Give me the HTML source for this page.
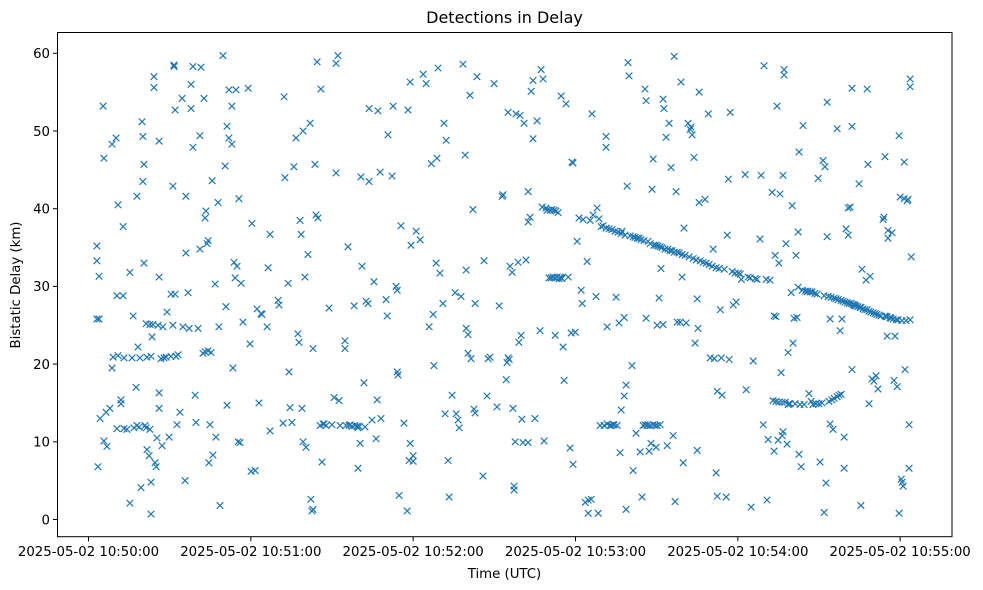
<!DOCTYPE html>
<html><head><meta charset="utf-8"><style>
html,body{margin:0;padding:0;background:#fff;}
svg{display:block;font-family:"DejaVu Sans","Liberation Sans",sans-serif;}
</style></head><body>
<svg id="chart" width="983" height="590" viewBox="0 0 983 590" xmlns="http://www.w3.org/2000/svg">
<rect x="0" y="0" width="983" height="590" fill="#fff"/>
<text x="504.5" y="23" text-anchor="middle" font-size="16" fill="#000">Detections in Delay</text>
<text x="504.5" y="578" text-anchor="middle" font-size="13.3" fill="#000">Time (UTC)</text>
<text x="0" y="0" transform="translate(20,285) rotate(-90)" text-anchor="middle" font-size="13.3" fill="#000">Bistatic Delay (km)</text>
<g id="marks"></g>
<g id="axes"></g>
<rect x="57.5" y="32.5" width="894.5" height="504.2" fill="none" stroke="#000" stroke-width="1"/>
</svg>
<script>
const xTickSeconds = [0, 60, 120, 180, 240, 300];
const xTickLabels = ["2025-05-02 10:50:00","2025-05-02 10:51:00","2025-05-02 10:52:00","2025-05-02 10:53:00","2025-05-02 10:54:00","2025-05-02 10:55:00"];
const yTicks = [0, 10, 20, 30, 40, 50, 60];
// [seconds after 10:50:00, bistatic delay km]
const detectionsA = [[3.1,35.2],[3.1,33.3],[3.9,31.3],[3.1,25.8],[3.9,25.8],[5.4,53.2],[5.7,46.5],[4.3,13],[3.5,6.8],[5.7,10.1],[6.8,9.4],[6.5,13.8],[8.7,48.3],[9.1,20.9],[8.7,19.5],[7.9,14.3],[10.2,49.1],[10.9,40.5],[10.5,28.8],[10.9,21.1],[10.5,11.7],[12,15.4],[12,14.9],[12.8,37.7],[12.8,28.8],[13.1,20.8],[13.1,11.7],[14.2,11.6],[15.3,31.8],[15.3,2.1],[16.1,20.8],[16.5,26.2],[16.8,11.8],[17.6,17],[17.9,41.6],[17.9,12.1],[18.3,22.2],[18.7,11.9],[19.4,4.1],[19,20.8],[19.8,51.2],[20.1,49.3],[20.1,43.5],[20.5,45.7],[20.5,33],[20.9,12.1],[21.3,25.2],[21.3,11.8],[21.6,20.9],[21.6,9],[22.4,8.2],[22.7,25.1],[22.7,11.6],[23.1,0.7],[23.1,4.8],[23.1,21],[23.5,23.5],[23.8,25.1],[24.2,57],[24.2,55.6],[24.6,7.3],[25,6.8],[25.3,10.5],[25.7,25],[26.1,48.7],[26.1,31.2],[26.1,16.3],[26.1,14.3],[26.8,20.7],[27.2,9.5],[27.5,24.8],[27.9,20.8],[28.7,20.9],[29,26.7],[29.8,10.6],[30.5,21],[30.5,29],[31.2,25],[31.6,58.3],[31.6,58.5],[31.2,42.9],[32,29],[32,52.7],[32.3,21],[32.7,12.2],[33.1,21.2],[33.8,13.8],[34.6,54.2],[34.9,24.8],[35.7,5],[36,41.6],[36,34.3],[36.8,29.2],[37.2,24.6],[37.9,56],[37.9,52.9],[38.6,58.3],[38.6,47.9],[39.4,16],[39.7,12.5],[40.5,24.6],[41.2,34.8],[41.2,49.4],[41.6,58.2],[42.3,21.4],[42.7,54.2],[43.1,38.8],[43.1,21.6],[43.4,39.7],[43.8,35.5],[44.2,35.9],[44.2,21.7],[44.5,7.3],[44.9,12.2],[45.3,21.5],[45.7,43.6],[46,8.3],[46.8,30.3],[47.1,10.6],[47.9,40.8],[48.2,24.8],[48.6,1.8],[49.7,59.7],[50.5,45.5],[50.8,27.4],[51.2,14.7],[51.2,50.6],[51.9,49.1],[51.9,55.3],[53,48.3],[53,53.2],[53.4,19.5],[53.8,33.1],[54.2,31.1],[54.5,55.3],[54.9,32.6],[55.3,10],[55.6,41.3],[56,9.9],[56.4,30.4],[57.1,25.4],[59,55.5],[59.7,22.6],[60.1,6.2],[60.4,38.1],[61.6,6.3],[62.3,27.1],[63,15],[63.8,26.5],[64.1,26.4],[66,24.8],[66.4,32.4],[67.1,36.7],[67.1,11.4]];
const detectionsB = [[70.1,28.2],[70.4,27.6],[71.9,12.4],[72.3,54.4],[72.6,44],[73.8,30.4],[74.1,19],[74.5,14.4],[75.2,12.5],[75.9,45.4],[76.7,49.1],[77.4,23.9],[77.8,22.8],[78.2,38.5],[78.6,36.7],[78.9,14.3],[79.3,10],[79.3,50],[80,31.2],[80.4,9.3],[81.1,34.1],[81.9,51],[82.2,2.6],[82.6,1.1],[83,1.3],[83,22],[83.7,45.7],[84.1,39.2],[84.5,58.9],[84.8,38.8],[85.6,12.1],[85.9,55.4],[86.3,7.4],[86.7,12.3],[87.1,12.3],[87.8,12.1],[88.9,27.2],[90,12.2],[90.8,15.7],[91.5,44.6],[92.2,59.7],[91.5,58.7],[92.6,15.3],[93,12.1],[94.8,23],[94.8,22],[95.2,12.1],[95.9,35.1],[96.3,12.1],[96.7,12.2],[97.4,12],[98.2,27.5],[98.5,12.1],[99.3,12],[99.6,11.8],[99.6,6.6],[100,12],[100.4,9.8],[100.7,44.1],[101.1,32.6],[101.8,17.6],[102.2,11.9],[102.6,28.1],[103.3,27.8],[103.7,52.9],[103.7,43.5],[104.8,12.8],[105.5,30.6],[106.3,10.4],[106.7,15.4],[107,52.6],[107.8,44.7],[108.1,13],[110,28.3],[110.4,26.2],[110.7,49.5],[112.2,44.2],[112.6,53.2],[113.7,30],[114.1,29.5],[114.1,19],[114.4,18.6],[114.8,3.1],[115.5,37.8],[116.6,12.4],[117.8,1.1],[118.1,52.7],[118.5,7.6],[118.9,9.8],[118.9,56.3],[119.2,35.3],[120,8.2],[120,7.5],[121.1,37.1],[122.6,36],[123.7,57.3],[124.8,56.1],[125.9,24.8],[126.7,45.8],[127.4,26.4]];
const detectionsC = [[127.7,19.8],[128.5,33],[128.8,46.5],[129.2,58.1],[129.9,31.7],[131,27.8],[131.4,51],[131.8,13.6],[132.2,48.8],[132.9,7.6],[133.3,2.9],[134.4,16],[135.5,29.2],[135.9,13.6],[136.6,12.8],[137,11.8],[137.7,28.7],[138.4,58.6],[139.2,46.9],[139.6,24.6],[139.6,32.1],[140.3,21.4],[140.3,23.8],[141,54.6],[141.4,20.7],[142.1,39.9],[142.5,14.2],[142.9,27.8],[142.9,13.7],[143.6,57],[145.8,5.6],[146.2,33.3],[147.3,15.9],[147.7,20.7],[148.4,20.9],[149.9,56.1],[151,14.5],[151.8,27.5],[152.9,41.6],[153.2,41.8],[154.4,18],[154.7,20.2],[155.1,20.8],[155.1,52.4],[155.5,20.6],[155.8,32.6],[156.6,31.8],[156.9,14.3],[157.3,4.3],[157.3,3.8],[157.7,10],[158,52.2],[158.8,33.1],[159.1,22.8],[159.5,52],[159.9,23.7],[160.2,12.9],[160.6,9.9],[161,51],[161.7,33.4],[162.5,38.3],[162.5,42.2],[162.5,9.9],[163.2,38.9],[163.6,55.1],[164.3,49],[164.3,56.5],[165,13],[165.8,51.3],[166.9,24.3],[167.3,57.9],[167.7,40.2],[168,56.7],[168.4,10.1],[169.1,40.1],[169.5,39.8],[170.2,31.1],[170.6,39.8],[171,31.1],[171.3,39.9],[171.7,31.2],[172.1,39.8],[172.5,31.1],[172.5,23.7],[172.8,39.7],[173.2,31.2],[173.6,39.5],[173.9,31],[174.3,31.2],[174.7,31.1],[175,31],[174.7,54.5],[175.4,22.2],[175.8,17.9],[176.5,53.5],[177.3,31.2],[178,9.2],[178.4,24],[178.7,46],[179.1,45.9],[179.1,7.1],[179.9,24.1]];
const detectionsD = [[180.6,35.8],[181.3,38.8],[182.1,29.5],[182.5,27.8],[182.8,38.6],[183.6,2.2],[184.3,33.2],[184.7,2.5],[184.7,0.8],[185.4,38.5],[185.8,2.6],[186.1,52.2],[186.5,39.2],[187.6,28.7],[188,40.1],[188.4,0.8],[188.7,38.7],[189.1,12.1],[189.5,37.7],[190.2,37.8],[190.6,12.1],[191.3,37.5],[191.3,49.3],[191.3,47.9],[191.7,12.3],[191.7,24.8],[192.4,37.4],[192.8,12.1],[193.2,12.1],[193.5,37.3],[193.9,12.2],[194.3,12.2],[194.6,37.1],[195,28.6],[195.4,12.1],[195.7,37],[196.1,25.3],[196.5,8.6],[196.9,36.8],[196.9,14.1],[197.2,37.1],[198,26],[198,15.9],[198.3,36.6],[198.7,1.3],[198.7,17.3],[199.1,42.9],[199.4,58.8],[199.8,57.1],[200.2,36.5],[200.9,19.8],[201.3,36.4],[201.3,6.3],[202,36.3],[202.4,11.1],[202.8,36.2],[203.5,36.2],[203.9,8.7],[204.2,36],[204.6,2.9],[205,12.1],[205.3,35.9],[205.7,55.4],[205.7,12.2],[206.1,25.9],[206.1,53.9],[206.4,12.1],[206.8,35.8],[206.8,12.2],[207.2,8.8],[207.6,12.1],[207.6,35.5],[207.9,9.8],[208.3,42.5],[208.7,12.2],[208.7,46.4],[209,35.3],[209.4,12.1],[209.8,35.3],[209.8,9.3],[210.2,12.1],[210.2,25],[210.5,35.2],[210.9,28.5],[211.3,12.2],[211.3,35.1],[211.6,32.3],[212,35],[212.4,54.1],[212.4,25.1],[212.7,52.9],[213.1,34.8],[213.5,49.2],[213.9,9.5],[214.2,34.8],[214.6,51],[215,34.6],[215.3,45.3],[215.7,34.6],[216.1,10.8],[216.5,59.6],[216.5,34.4],[216.8,2.3],[217.2,42.2],[217.6,34.4],[217.6,25.4],[218.3,34.3],[218.7,25.4],[219,56.3],[219.4,31.2],[219.4,34.1],[219.8,7.3],[220.1,37.5],[220.5,34],[220.9,25.3],[221.6,51],[222,33.8],[222.4,50.2],[222.7,50.5],[223.1,49.5],[223.5,33.6],[223.8,46.6],[224.2,22.7],[224.6,33.4],[225,28.4],[225,8.9],[225.3,24.6],[225.7,40.8],[225.7,55]];
const detectionsE = [[226.1,33.3],[227.2,33.1],[227.9,41.2],[228.3,33],[229.1,52.2],[229.4,32.8],[229.8,20.8],[230.5,32.6],[230.9,34.8],[231.3,20.7],[232,32.4],[232,6],[232.4,16.5],[232.4,3],[233.1,32.3],[233.5,27],[233.9,20.8],[234.2,16],[235,32.2],[235.7,2.9],[236.1,36.6],[236.5,43.8],[236.8,20.6],[237.2,52.4],[237.9,31.9],[238.3,27.6],[239,31.7],[239.4,28],[240.2,31.7],[240.9,31.6],[241.3,30.9],[242.7,44.4],[243.1,16.7],[243.8,31.2],[244.6,31.1],[244.9,1.6],[245.7,20.4],[246.4,31],[247.1,30.9],[248.2,36.1],[248.6,44.3],[249.4,12.2],[249.7,58.4],[250.5,30.9],[250.8,2.5],[251.2,10.3],[251.9,30.8],[252.7,42.1],[253,15.3],[253.4,8.8],[253.4,26.2],[253.8,34],[254.1,26.1],[254.1,15.2],[254.5,53.2],[254.9,10.2],[255.2,15.1],[255.2,33],[255.6,41.9],[256,18.9],[256.4,15.1],[256.4,10.8],[256.7,44.3],[256.7,11.3],[257.1,57.9],[257.1,57.2],[257.5,15.1],[257.8,35.5],[258.2,9.7],[258.6,14.8],[258.6,21.5],[258.9,14.9],[259.3,14.9],[259.7,29.2],[260.1,40.4],[260.4,22.7],[260.8,25.9],[261.2,14.9],[261.5,34],[261.9,26],[262.3,37],[262.3,29.9],[262.6,47.3],[262.6,8.4],[263,14.8],[263.4,6.8],[263.8,29.5],[264.1,50.7],[264.5,14.8],[264.9,29.4],[265.6,29.3],[266,29.4],[266.3,16.2],[266.7,29.3],[267.1,15.2],[267.4,29.3],[267.8,14.8],[268.5,29.1],[268.9,14.9],[269.3,29],[269.7,43.9],[270,14.9],[270.4,7.4]];
const detectionsF = [[271.1,15],[271.5,46.2],[271.9,28.8],[271.9,0.9],[272.2,45.4],[272.6,4.7],[273,36.4],[273,53.7],[273.4,28.7],[273.7,15.2],[274.1,25.8],[274.1,12.3],[274.5,28.6],[274.8,15.4],[275.2,11.6],[275.6,28.5],[275.6,15.6],[276.3,28.4],[276.7,50.3],[276.7,15.8],[277.1,28.3],[277.4,16],[277.8,24.3],[278.2,28.2],[278.2,16.1],[278.5,25.8],[278.9,28.1],[279.3,10.6],[279.3,6.6],[279.6,28],[280,37.4],[280.4,27.9],[280.8,36.6],[280.8,40.1],[281.1,27.8],[281.5,40.2],[281.9,27.8],[282.2,55.5],[282.2,50.6],[282.2,19.3],[282.6,27.7],[283,27.6],[283.3,27.5],[283.7,27.5],[284.4,27.4],[284.8,43.2],[285.2,27.3],[285.5,27.3],[285.5,1.8],[285.9,32.2],[286.3,27.1],[287,27],[287.4,30.8],[287.8,55.4],[287.8,27],[288.1,45.7],[288.5,26.8],[288.5,14.9],[288.9,31.3],[289.2,26.7],[289.6,18.1],[290,26.6],[290.3,17.8],[290.7,26.5],[291.1,18.5],[291.4,26.4],[291.8,16.8],[292.2,26.3],[292.9,26.2],[293.7,38.6],[294,38.9],[294.4,46.7],[294.4,26.2],[294.8,26.1],[295.2,23.6],[295.2,26.1],[295.5,37.2],[295.5,36.2],[296.3,26],[296.6,25.9],[297,36.9],[297.4,25.8],[297.7,17.9],[298.1,23.6],[298.5,25.7],[298.9,17.1],[299.2,25.7],[299.6,49.4],[299.6,0.8],[300,41.5],[300.4,5.2],[300.7,4.8],[300.7,25.6],[301.1,4.3],[301.5,41.3],[301.5,46],[301.8,19.3],[302.2,25.6],[302.6,41],[302.9,41.2],[303.3,6.6],[303.3,12.2],[303.7,25.7],[303.7,56.7],[303.7,55.7],[304.1,33.8]];

const plotLeft = 57.5, plotRight = 952, plotTop = 32.5, plotBottom = 536.7;
const x0px = 88.5, pxPerSec = 2.7055;
const y0px = 519.5, pxPerKm = 7.77;
function xScale(s){ return x0px + s * pxPerSec; }
function yScale(k){ return y0px - k * pxPerKm; }
const NS = "http://www.w3.org/2000/svg";
const marks = document.getElementById('marks');
const axes = document.getElementById('axes');
const all = [].concat(detectionsA, detectionsB, detectionsC, detectionsD, detectionsE, detectionsF);
const a = 3.3;
all.forEach(function(d){
  const cx = xScale(d[0]), cy = yScale(d[1]);
  const p = document.createElementNS(NS, 'path');
  p.setAttribute('d', 'M'+(cx-a)+' '+(cy-a)+'L'+(cx+a)+' '+(cy+a)+'M'+(cx-a)+' '+(cy+a)+'L'+(cx+a)+' '+(cy-a));
  p.setAttribute('stroke', '#1f77b4');
  p.setAttribute('stroke-width', '1.2');
  p.setAttribute('fill', 'none');
  
  
  marks.appendChild(p);
});
xTickSeconds.forEach(function(s, i){
  const x = xScale(s);
  const l = document.createElementNS(NS, 'line');
  l.setAttribute('x1', x); l.setAttribute('x2', x);
  l.setAttribute('y1', plotBottom); l.setAttribute('y2', plotBottom + 4.5);
  l.setAttribute('stroke', '#000'); l.setAttribute('stroke-width', '1');
  
  
  axes.appendChild(l);
  const t = document.createElementNS(NS, 'text');
  t.setAttribute('x', x); t.setAttribute('y', plotBottom + 19.5);
  t.setAttribute('text-anchor', 'middle'); t.setAttribute('font-size', '13.3');
  t.textContent = xTickLabels[i];
  
  
  axes.appendChild(t);
});
yTicks.forEach(function(v){
  const y = yScale(v);
  const l = document.createElementNS(NS, 'line');
  l.setAttribute('x1', plotLeft - 4.5); l.setAttribute('x2', plotLeft);
  l.setAttribute('y1', y); l.setAttribute('y2', y);
  l.setAttribute('stroke', '#000'); l.setAttribute('stroke-width', '1');
  
  
  axes.appendChild(l);
  const t = document.createElementNS(NS, 'text');
  t.setAttribute('x', plotLeft - 7.5); t.setAttribute('y', y + 4.8);
  t.setAttribute('text-anchor', 'end'); t.setAttribute('font-size', '13.3');
  t.textContent = String(v);
  
  
  axes.appendChild(t);
});
</script>
</body></html>
